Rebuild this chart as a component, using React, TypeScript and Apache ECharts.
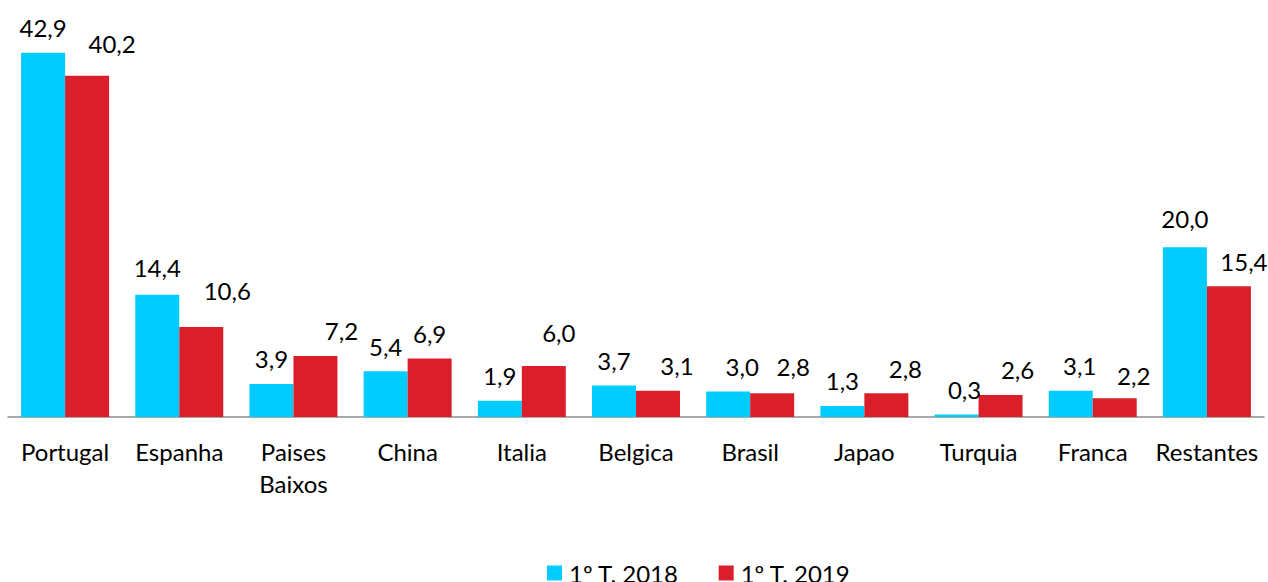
import React, { useEffect, useRef } from "react";
import * as echarts from "echarts";

const categories = [
  "Portugal",
  "Espanha",
  "Paises Baixos",
  "China",
  "Italia",
  "Belgica",
  "Brasil",
  "Japao",
  "Turquia",
  "Franca",
  "Restantes",
];
const series2018 = [42.9, 14.4, 3.9, 5.4, 1.9, 3.7, 3.0, 1.3, 0.3, 3.1, 20.0];
const series2019 = [40.2, 10.6, 7.2, 6.9, 6.0, 3.1, 2.8, 2.8, 2.6, 2.2, 15.4];
const seriesNames = ["1º T. 2018", "1º T. 2019"];

// label nudges (as in the original, labels were hand-placed)
const shift2018X = [0, 0, 0, 0, 0, 0, 14, 0, 8, 9, 0];
const shift2018Y = [0, -2, 0, 0, 0, 0, 0, 0, 0, 0, -4];
const shift2019X = [25, 26, 26, 0, 15, 19, 21, 19, 17, 19, 15];
const shift2019Y = [-7, -12, 0, 0, -9, 0, -2, 0, 0, 2, 0];

const FONT = "Lato, 'Open Sans', sans-serif";
const fmt = (v: number) => v.toFixed(1).replace(".", ",");

function buildData(values: number[], sx: number[], sy: number[]) {
  return values.map((v, i) => ({
    value: v,
    label: { offset: [sx[i], sy[i]] },
  }));
}

export default function App() {
  const ref = useRef<HTMLDivElement>(null);
  useEffect(() => {
    if (!ref.current) return;
    const chart = echarts.init(ref.current, undefined, { renderer: "svg" });
    const labelBase = {
      show: true,
      position: "top",
      distance: 13,
      fontFamily: FONT,
      fontSize: 24,
      color: "#000",
      formatter: (p: any) => fmt(p.value),
    };
    chart.setOption({
      animation: false,
      backgroundColor: "#fff",
      grid: { left: 8, right: 4, top: 35, bottom: 165, containLabel: false },
      legend: {
        top: 556,
        left: 542,
        itemWidth: 15,
        itemHeight: 15,
        itemGap: 40,
        icon: "rect",
        textStyle: { fontFamily: FONT, fontSize: 24, color: "#000", padding: [0, 0, 0, 2] },
        data: seriesNames,
      },
      xAxis: {
        type: "category",
        data: categories,
        axisLine: { lineStyle: { color: "#8c8c8c", width: 1.5 } },
        axisTick: { show: false },
        axisLabel: {
          interval: 0,
          margin: 18,
          fontFamily: FONT,
          fontSize: 24,
          lineHeight: 32,
          color: "#000",
          formatter: (v: string) => v.replace(" ", "\n"),
        },
      },
      yAxis: {
        type: "value",
        min: 0,
        max: 45,
        show: false,
        splitLine: { show: false },
      },
      series: [
        {
          name: seriesNames[0],
          type: "bar",
          barWidth: 44,
          barGap: "0%",
          itemStyle: { color: "#00CCFF" },
          label: labelBase,
          data: buildData(series2018, shift2018X, shift2018Y),
        },
        {
          name: seriesNames[1],
          type: "bar",
          barWidth: 44,
          barGap: "0%",
          itemStyle: { color: "#DA1F2A" },
          label: labelBase,
          data: buildData(series2019, shift2019X, shift2019Y),
        },
      ],
    });
    return () => chart.dispose();
  }, []);
  return (
    <div
      ref={ref}
      style={{ position: "fixed", left: 0, top: 0, width: 1268, height: 582 }}
    />
  );
}
